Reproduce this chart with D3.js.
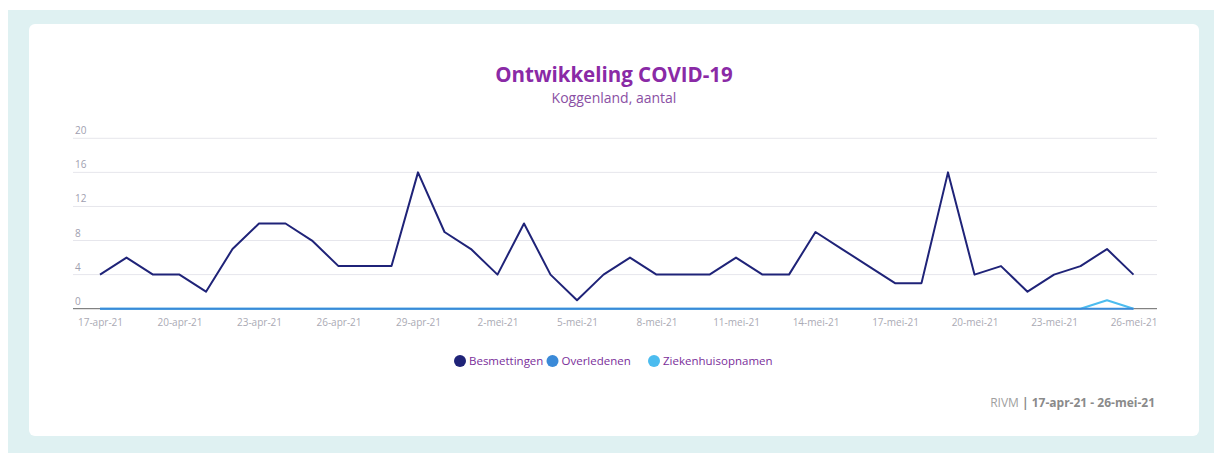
<!DOCTYPE html>
<meta charset="utf-8">
<style>
  body { margin: 0; background: #fff; }
  svg { display: block; font-family: "Open Sans", sans-serif; }
</style>
<svg width="1214" height="453"></svg>
<script src="https://cdn.jsdelivr.net/npm/d3@7"></script>
<script>

// data
var dates = ["17-apr-21","18-apr-21","19-apr-21","20-apr-21","21-apr-21","22-apr-21","23-apr-21","24-apr-21","25-apr-21","26-apr-21",
  "27-apr-21","28-apr-21","29-apr-21","30-apr-21","1-mei-21","2-mei-21","3-mei-21","4-mei-21","5-mei-21","6-mei-21",
  "7-mei-21","8-mei-21","9-mei-21","10-mei-21","11-mei-21","12-mei-21","13-mei-21","14-mei-21","15-mei-21","16-mei-21",
  "17-mei-21","18-mei-21","19-mei-21","20-mei-21","21-mei-21","22-mei-21","23-mei-21","24-mei-21","25-mei-21","26-mei-21"]
var besmettingen = [4,6,4,4,2,7,10,10,8,5, 5,5,16,9,7,4,10,4,1,4, 6,4,4,4,6,4,4,9,7,5, 3,3,16,4,5,2,4,5,7,4]
var overledenen = [0,0,0,0,0,0,0,0,0,0, 0,0,0,0,0,0,0,0,0,0, 0,0,0,0,0,0,0,0,0,0, 0,0,0,0,0,0,0,0,0,0]
var ziekenhuis = [0,0,0,0,0,0,0,0,0,0, 0,0,0,0,0,0,0,0,0,0, 0,0,0,0,0,0,0,0,0,0, 0,0,0,0,0,0,0,0,1,0]
var yTicks = [0,4,8,12,16,20]
var seriesNames = ["Besmettingen","Overledenen","Ziekenhuisopnamen"]
var seriesColors = ["#1f2378","#3a8ad8","#4cbcef"]

var svg = d3.select("svg")

// background + card
svg.append("rect").attr("x", 8).attr("y", 10).attr("width", 1206).attr("height", 443).attr("fill", "#dff1f2")
svg.append("rect").attr("x", 29).attr("y", 24).attr("width", 1170).attr("height", 412).attr("rx", 6).attr("fill", "#fff")

var plotLeft = 73, plotRight = 1157, plotTop = 138.3, plotBottom = 308.7

var x = d3.scalePoint().domain(dates).range([100, 1133.5])
var y = d3.scaleLinear().domain([0, 20]).range([plotBottom, plotTop])

svg.append("text").attr("x", 614).attr("y", 82).attr("text-anchor", "middle")
  .attr("font-size", 20.5).attr("font-weight", 700).attr("fill", "#8a2aa6").text("Ontwikkeling COVID-19")
svg.append("text").attr("x", 614).attr("y", 103).attr("text-anchor", "middle")
  .attr("font-size", 14).attr("fill", "#8a4fa4").text("Koggenland, aantal")

// grid
var grid = svg.append("g")
grid.selectAll("line").data(yTicks.filter(function(d){ return d > 0 })).enter().append("line")
  .attr("x1", plotLeft).attr("x2", plotRight)
  .attr("y1", function(d){ return y(d) }).attr("y2", function(d){ return y(d) })
  .attr("stroke", "#e6e6ec").attr("stroke-width", 1)
grid.selectAll("text").data(yTicks).enter().append("text")
  .attr("x", 75).attr("y", function(d){ return y(d) - 4 })
  .attr("font-size", 10).attr("fill", "#a0a0b0").text(function(d){ return d })

svg.append("line").attr("x1", plotLeft).attr("x2", plotRight).attr("y1", plotBottom).attr("y2", plotBottom)
  .attr("stroke", "#666").attr("stroke-width", 1)

// x axis labels
var xAxis = d3.axisBottom(x).tickValues(dates.filter(function(d, i){ return i % 3 == 0 })).tickSize(0).tickPadding(10)
var xg = svg.append("g").attr("transform", "translate(0," + plotBottom + ")").call(xAxis)
xg.select(".domain").remove()
xg.selectAll("text").attr("font-size", 10).attr("font-family", "Open Sans, sans-serif").attr("fill", "#aaaab4")

// lines
var line = d3.line().x(function(d, i){ return x(dates[i]) }).y(function(d){ return y(d) })
var drawOrder = [[ziekenhuis, 2], [overledenen, 1], [besmettingen, 0]]
drawOrder.forEach(function(s){
  svg.append("path").datum(s[0]).attr("d", line)
    .attr("fill", "none").attr("stroke", seriesColors[s[1]]).attr("stroke-width", 2)
    .attr("stroke-linejoin", "round")
})

// legend
var legendX = [460, 552.5, 654]
var lg = svg.append("g")
seriesNames.forEach(function(n, i){
  lg.append("circle").attr("cx", legendX[i]).attr("cy", 361).attr("r", 6).attr("fill", seriesColors[i])
  lg.append("text").attr("x", legendX[i] + 9).attr("y", 365).attr("font-size", 11.5)
    .attr("fill", "#7a2e9a").text(n)
})

// source
var src = svg.append("text").attr("x", 1155).attr("y", 407).attr("text-anchor", "end").attr("font-size", 12)
src.append("tspan").attr("fill", "#a0a0a0").text("RIVM ")
src.append("tspan").attr("fill", "#8a8a8a").attr("font-weight", 700).text("| 17-apr-21 - 26-mei-21")

</script>
